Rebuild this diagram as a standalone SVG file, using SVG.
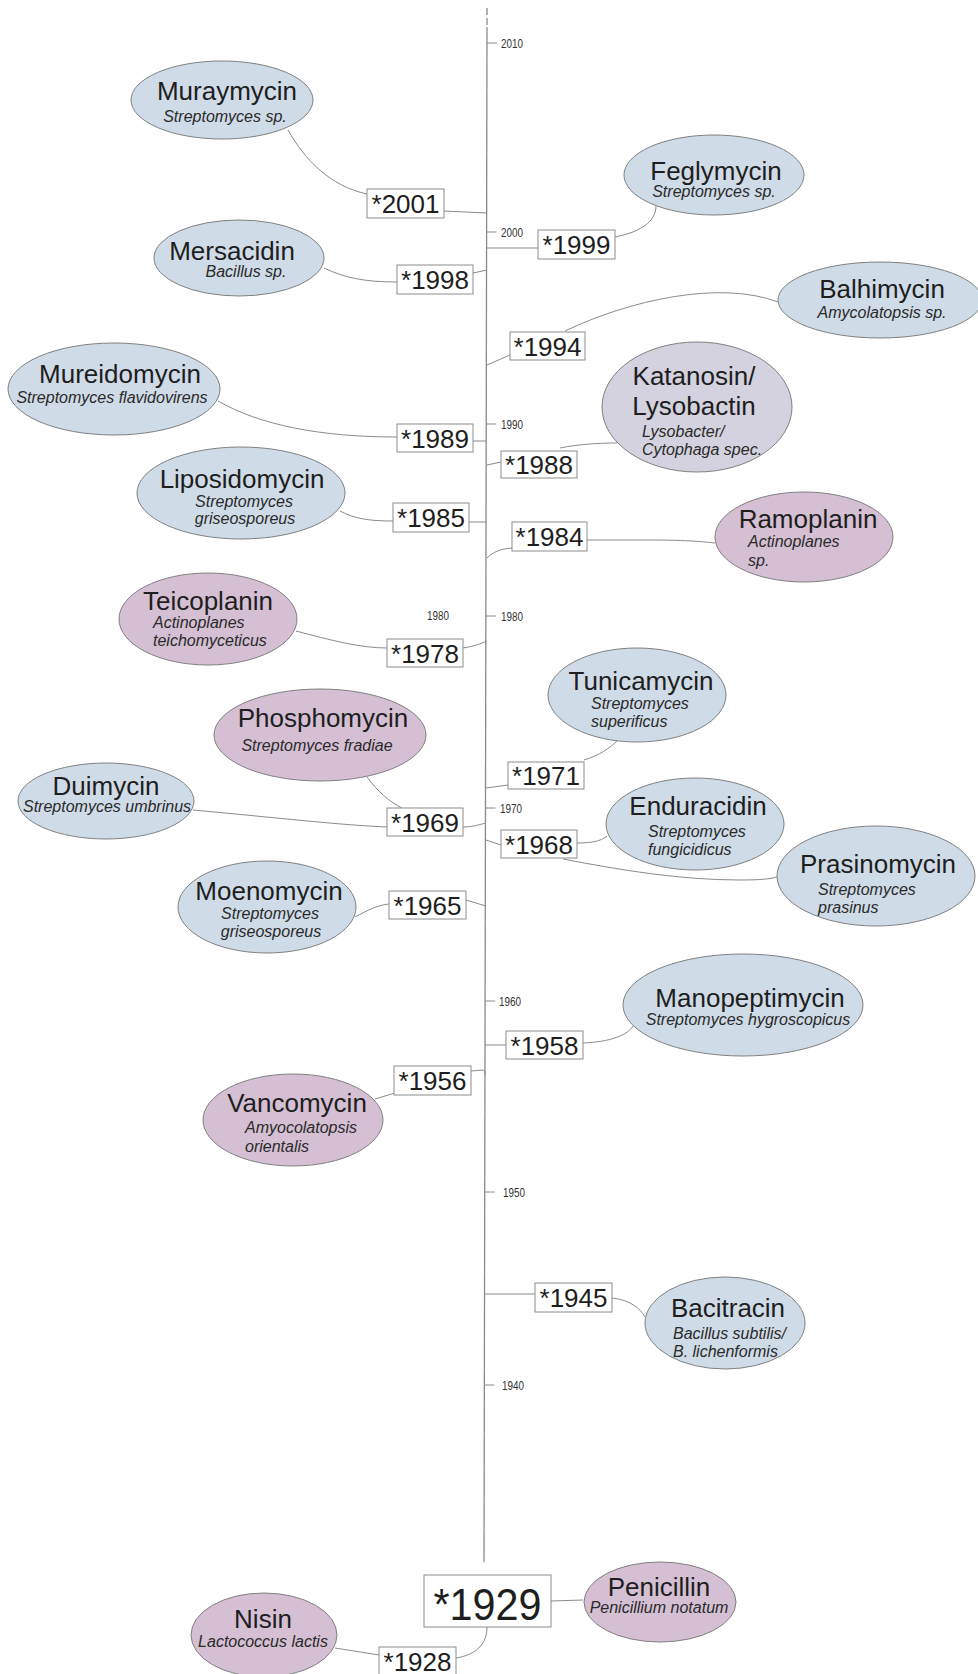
<svg xmlns="http://www.w3.org/2000/svg" width="978" height="1674" viewBox="0 0 978 1674">
<style>
.bg{fill:#ffffff}
.blue{fill:#cfdbe7;stroke:#808080;stroke-width:1}
.mauve{fill:#d4bfd3;stroke:#808080;stroke-width:1}
.lav{fill:#d3d2de;stroke:#808080;stroke-width:1}
.box{fill:#ffffff;stroke:#8c8c8c;stroke-width:1}
.con{fill:none;stroke:#8a8a8a;stroke-width:1}
.axis{fill:none;stroke:#8a8a8a;stroke-width:1.3}
.t{font-family:"Liberation Sans",Arial,sans-serif;font-size:26px;fill:#1e1e1e}
.s{font-family:"Liberation Sans",Arial,sans-serif;font-size:16px;font-style:italic;fill:#2a2a2a}
.y{font-family:"Liberation Sans",Arial,sans-serif;font-size:26px;fill:#1e1e1e;text-anchor:middle}
.k{font-family:"Liberation Sans",Arial,sans-serif;font-size:12px;fill:#333333}
.m{text-anchor:middle}
</style>
<rect class="bg" x="0" y="0" width="978" height="1674"/>

<g id="axis">
<line class="axis" x1="487" y1="8" x2="487" y2="27" stroke-dasharray="7 3"/>
<line class="axis" x1="487" y1="27" x2="484" y2="1562"/>
<path class="con" d="M487,43 h10 M486.6,232 h10 M486.3,424 h10 M485.9,616 h10 M485.5,808 h10 M485.2,1001 h10 M484.8,1192 h10 M484.3,1385 h10"/>
<text class="k" x="501" y="48" textLength="22" lengthAdjust="spacingAndGlyphs">2010</text>
<text class="k" x="501" y="237" textLength="22" lengthAdjust="spacingAndGlyphs">2000</text>
<text class="k" x="501" y="429" textLength="22" lengthAdjust="spacingAndGlyphs">1990</text>
<text class="k" x="501" y="621" textLength="22" lengthAdjust="spacingAndGlyphs">1980</text>
<text class="k" x="500" y="813" textLength="22" lengthAdjust="spacingAndGlyphs">1970</text>
<text class="k" x="499" y="1006" textLength="22" lengthAdjust="spacingAndGlyphs">1960</text>
<text class="k" x="503" y="1197" textLength="22" lengthAdjust="spacingAndGlyphs">1950</text>
<text class="k" x="502" y="1390" textLength="22" lengthAdjust="spacingAndGlyphs">1940</text>
<text class="k" x="427" y="620" textLength="22" lengthAdjust="spacingAndGlyphs">1980</text>
</g>

<g id="connectors">
<path class="con" d="M288,130 C305,160 330,186 367,194"/>
<path class="con" d="M444,211 L487,213"/>
<path class="con" d="M324,268 C345,278 365,282 397,282"/>
<path class="con" d="M473,273 L487,270"/>
<path class="con" d="M487,248 L538,248"/>
<path class="con" d="M615,237 C640,232 656,222 656,206"/>
<path class="con" d="M487,365 L510,355"/>
<path class="con" d="M565,331 C630,300 720,280 778,302"/>
<path class="con" d="M218,401 C260,425 320,437 397,437"/>
<path class="con" d="M473,441 L487,441"/>
<path class="con" d="M487,465 L501,462"/>
<path class="con" d="M560,448 C580,444 600,443 617,443"/>
<path class="con" d="M340,511 C355,519 370,521 393,521"/>
<path class="con" d="M469,522 L487,522"/>
<path class="con" d="M487,558 C493,552 500,549 512,548"/>
<path class="con" d="M587,540 L650,540 C690,540 705,542 715,543"/>
<path class="con" d="M296,631 C330,640 360,648 387,648"/>
<path class="con" d="M463,648 C475,646 480,644 487,641"/>
<path class="con" d="M486,788 L508,785"/>
<path class="con" d="M584,760 C600,755 610,748 618,740"/>
<path class="con" d="M367,777 C378,792 390,802 402,808"/>
<path class="con" d="M193,810 C280,818 340,825 387,827"/>
<path class="con" d="M463,827 C472,827 478,825 486,823"/>
<path class="con" d="M486,840 L501,845"/>
<path class="con" d="M577,843 C595,843 602,840 607,836"/>
<path class="con" d="M563,859 C620,870 680,880 740,880 C760,880 770,879 777,877"/>
<path class="con" d="M355,917 C368,910 378,905 389,904"/>
<path class="con" d="M466,900 L486,906"/>
<path class="con" d="M485,1045 L506,1045"/>
<path class="con" d="M583,1043 C610,1042 628,1035 633,1026"/>
<path class="con" d="M375,1099 L395,1093"/>
<path class="con" d="M471,1071 L483,1070 Q486,1071 485,1075"/>
<path class="con" d="M484,1294 L535,1294"/>
<path class="con" d="M612,1298 C630,1300 640,1308 645,1317"/>
<path class="con" d="M551,1601 L583,1600"/>
<path class="con" d="M487,1627 C487,1645 475,1655 456,1658"/>
<path class="con" d="M335,1648 L379,1655"/>
</g>

<g id="muraymycin">
<ellipse class="blue" cx="222" cy="100" rx="91" ry="39"/>
<text class="t m" x="227" y="100">Muraymycin</text>
<text class="s m" x="225" y="122">Streptomyces sp.</text>
</g>
<g id="y2001"><rect class="box" x="367" y="189" width="77" height="29"/><text class="y" x="405.5" y="213">*2001</text></g>

<g id="mersacidin">
<ellipse class="blue" cx="239" cy="258" rx="85" ry="38"/>
<text class="t m" x="232" y="260">Mersacidin</text>
<text class="s m" x="246" y="277">Bacillus sp.</text>
</g>
<g id="y1998"><rect class="box" x="397" y="265" width="76" height="29"/><text class="y" x="435" y="289">*1998</text></g>

<g id="feglymycin">
<ellipse class="blue" cx="714" cy="175" rx="90" ry="40"/>
<text class="t m" x="716" y="180">Feglymycin</text>
<text class="s m" x="714" y="197">Streptomyces sp.</text>
</g>
<g id="y1999"><rect class="box" x="538" y="230" width="77" height="29"/><text class="y" x="576.5" y="254">*1999</text></g>

<g id="balhimycin">
<ellipse class="blue" cx="880" cy="300" rx="102" ry="38"/>
<text class="t m" x="882" y="298">Balhimycin</text>
<text class="s m" x="882" y="318">Amycolatopsis sp.</text>
</g>
<g id="y1994"><rect class="box" x="510" y="332" width="75" height="28"/><text class="y" x="547.5" y="356">*1994</text></g>

<g id="katanosin">
<ellipse class="lav" cx="697" cy="407" rx="95" ry="65"/>
<text class="t m" x="694" y="385">Katanosin/</text>
<text class="t m" x="694" y="415">Lysobactin</text>
<text class="s" x="642" y="437">Lysobacter/</text>
<text class="s" x="642" y="455">Cytophaga spec.</text>
</g>
<g id="y1988"><rect class="box" x="501" y="451" width="76" height="27"/><text class="y" x="539" y="474">*1988</text></g>

<g id="mureidomycin">
<ellipse class="blue" cx="114" cy="389" rx="106" ry="46"/>
<text class="t m" x="120" y="383">Mureidomycin</text>
<text class="s m" x="112" y="403">Streptomyces flavidovirens</text>
</g>
<g id="y1989"><rect class="box" x="397" y="424" width="76" height="28"/><text class="y" x="435" y="448">*1989</text></g>

<g id="liposidomycin">
<ellipse class="blue" cx="241" cy="493" rx="104" ry="46"/>
<text class="t m" x="242" y="488">Liposidomycin</text>
<text class="s m" x="244" y="507">Streptomyces</text>
<text class="s m" x="245" y="524">griseosporeus</text>
</g>
<g id="y1985"><rect class="box" x="393" y="503" width="76" height="29"/><text class="y" x="431" y="527">*1985</text></g>

<g id="ramoplanin">
<ellipse class="mauve" cx="804" cy="537" rx="89" ry="45"/>
<text class="t m" x="808" y="528">Ramoplanin</text>
<text class="s" x="748" y="547">Actinoplanes</text>
<text class="s" x="748" y="566">sp.</text>
</g>
<g id="y1984"><rect class="box" x="512" y="522" width="75" height="29"/><text class="y" x="549.5" y="546">*1984</text></g>

<g id="teicoplanin">
<ellipse class="mauve" cx="208" cy="619" rx="89" ry="46"/>
<text class="t m" x="208" y="610">Teicoplanin</text>
<text class="s" x="153" y="628">Actinoplanes</text>
<text class="s" x="153" y="646">teichomyceticus</text>
</g>
<g id="y1978"><rect class="box" x="387" y="639" width="76" height="28"/><text class="y" x="425" y="663">*1978</text></g>

<g id="tunicamycin">
<ellipse class="blue" cx="637" cy="695" rx="89" ry="47"/>
<text class="t m" x="641" y="690">Tunicamycin</text>
<text class="s" x="591" y="709">Streptomyces</text>
<text class="s" x="591" y="727">superificus</text>
</g>
<g id="y1971"><rect class="box" x="508" y="762" width="76" height="27"/><text class="y" x="546" y="785">*1971</text></g>

<g id="phosphomycin">
<ellipse class="mauve" cx="320" cy="735" rx="106" ry="46"/>
<text class="t m" x="323" y="727">Phosphomycin</text>
<text class="s m" x="317" y="751">Streptomyces fradiae</text>
</g>

<g id="duimycin">
<ellipse class="blue" cx="106" cy="801" rx="88" ry="38"/>
<text class="t m" x="106" y="795">Duimycin</text>
<text class="s m" x="107" y="812">Streptomyces umbrinus</text>
</g>
<g id="y1969"><rect class="box" x="387" y="808" width="76" height="28"/><text class="y" x="425" y="832">*1969</text></g>

<g id="enduracidin">
<ellipse class="blue" cx="695" cy="824" rx="89" ry="46"/>
<text class="t m" x="698" y="815">Enduracidin</text>
<text class="s" x="648" y="837">Streptomyces</text>
<text class="s" x="648" y="855">fungicidicus</text>
</g>
<g id="y1968"><rect class="box" x="501" y="830" width="76" height="28"/><text class="y" x="539" y="854">*1968</text></g>

<g id="prasinomycin">
<ellipse class="blue" cx="876" cy="876" rx="99" ry="50"/>
<text class="t m" x="878" y="873">Prasinomycin</text>
<text class="s" x="818" y="895">Streptomyces</text>
<text class="s" x="818" y="913">prasinus</text>
</g>

<g id="moenomycin">
<ellipse class="blue" cx="267" cy="907" rx="89" ry="46"/>
<text class="t m" x="269" y="900">Moenomycin</text>
<text class="s m" x="270" y="919">Streptomyces</text>
<text class="s m" x="271" y="937">griseosporeus</text>
</g>
<g id="y1965"><rect class="box" x="389" y="891" width="77" height="28"/><text class="y" x="427.5" y="915">*1965</text></g>

<g id="manopeptimycin">
<ellipse class="blue" cx="743" cy="1005" rx="120" ry="51"/>
<text class="t m" x="750" y="1007">Manopeptimycin</text>
<text class="s m" x="748" y="1025">Streptomyces hygroscopicus</text>
</g>
<g id="y1958"><rect class="box" x="506" y="1031" width="77" height="28"/><text class="y" x="544.5" y="1055">*1958</text></g>

<g id="vancomycin">
<ellipse class="mauve" cx="293" cy="1120" rx="90" ry="46"/>
<text class="t m" x="297" y="1112">Vancomycin</text>
<text class="s" x="245" y="1133">Amyocolatopsis</text>
<text class="s" x="245" y="1152">orientalis</text>
</g>
<g id="y1956"><rect class="box" x="394" y="1066" width="77" height="29"/><text class="y" x="432.5" y="1090">*1956</text></g>

<g id="bacitracin">
<ellipse class="blue" cx="725" cy="1323" rx="80" ry="46"/>
<text class="t m" x="728" y="1317">Bacitracin</text>
<text class="s" x="673" y="1339">Bacillus subtilis/</text>
<text class="s" x="673" y="1357">B. lichenformis</text>
</g>
<g id="y1945"><rect class="box" x="535" y="1283" width="77" height="29"/><text class="y" x="573.5" y="1307">*1945</text></g>

<g id="penicillin">
<ellipse class="mauve" cx="660" cy="1602" rx="76" ry="40"/>
<text class="t m" x="659" y="1596">Penicillin</text>
<text class="s m" x="659" y="1613">Penicillium notatum</text>
</g>
<g id="y1929"><rect class="box" x="424" y="1575" width="127" height="52"/><text class="y" x="487.5" y="1620" style="font-size:44px" textLength="108" lengthAdjust="spacingAndGlyphs">*1929</text></g>

<g id="nisin">
<ellipse class="mauve" cx="264" cy="1635" rx="73" ry="42"/>
<text class="t m" x="263" y="1628">Nisin</text>
<text class="s m" x="263" y="1647">Lactococcus lactis</text>
</g>
<g id="y1928"><rect class="box" x="379" y="1647" width="77" height="30"/><text class="y" x="417.5" y="1671">*1928</text></g>
</svg>
